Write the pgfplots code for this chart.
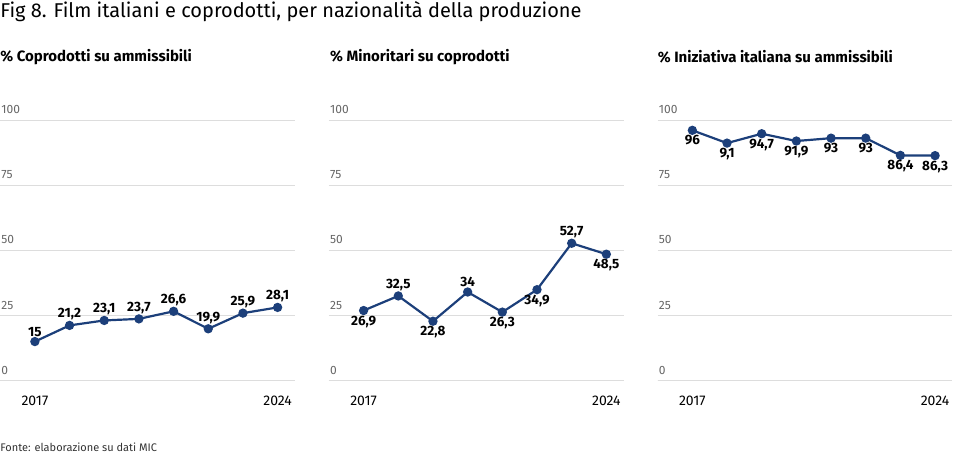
\documentclass[border=0pt]{standalone}
\usepackage{pgfplots}
\pgfplotsset{compat=1.18}
\usepackage{fontspec}
\setmainfont{Fira Sans}
\definecolor{lc}{HTML}{1C3F7A}
\definecolor{gc}{HTML}{DDDDDD}
\pgfplotsset{
 p/.style={scale only axis,width=295pt,height=261pt,xmin=2016,xmax=2024.5,ymin=0,ymax=100,
  axis x line*=bottom, axis y line=none, x axis line style={draw=gray!70},
  xtick={2017,2024}, xticklabels={2017,2024}, major tick length=0pt,
  xticklabel style={font=\fontsize{14}{14}\selectfont, yshift=-12pt},
  /pgf/number format/assume math mode=true, clip=false},
 ln/.style={lc, line width=2.2pt, mark=*, mark size=3.5pt, mark options={fill=lc,draw=lc}},
 lab/.style={only marks, mark=none, point meta=explicit symbolic, nodes near coords,
  nodes near coords style={font=\bfseries\fontsize{13.5}{13.5}\selectfont, black, anchor=#1, inner sep=5pt}},
}
\newcommand\gl[2]{\draw[gc] (rel axis cs:0,#1) -- (rel axis cs:1,#1);
  \node[anchor=south west,inner sep=1pt,text=gray!80!black,font=\fontsize{12}{12}\selectfont] at (rel axis cs:0,#1) [yshift=5pt] {#2};}
\newcommand\grid{\gl{0.25}{25}\gl{0.5}{50}\gl{0.75}{75}\gl{1}{100}\gl{0}{0}}
\begin{document}
\begin{tikzpicture}[x=1pt,y=1pt]
\path (0,0) rectangle (953,466);
\node[anchor=west,font=\fontsize{20}{20}\selectfont,inner sep=0] at (0,454) {Fig 8. Film italiani e coprodotti, per nazionalità della produzione};
\node[anchor=south west,font=\fontsize{11}{11}\selectfont,inner sep=0,text=black!80] at (0,14) {Fonte: elaborazione su dati MIC};
\node[anchor=west,font=\bfseries\fontsize{15}{15}\selectfont,inner sep=0] at (0,409) {\% Coprodotti su ammissibili};
\node[anchor=west,font=\bfseries\fontsize{15}{15}\selectfont,inner sep=0] at (330,409) {\% Minoritari su coprodotti};
\node[anchor=west,font=\bfseries\fontsize{15}{15}\selectfont,inner sep=0] at (658,409) {\% Iniziativa italiana su ammissibili};
\begin{axis}[p,at={(0pt,85pt)}]
\grid
\addplot[ln] coordinates {(2017,15)(2018,21.2)(2019,23.1)(2020,23.7)(2021,26.6)(2022,19.9)(2023,25.9)(2024,28.1)};
\addplot[lab=south] coordinates {(2017,15)[15](2018,21.2)[21,2](2019,23.1)[23,1](2020,23.7)[23,7](2021,26.6)[26,6](2022,19.9)[19,9](2023,25.9)[25,9](2024,28.1)[28,1]};
\end{axis}
\begin{axis}[p,at={(329pt,85pt)}]
\grid
\addplot[ln] coordinates {(2017,26.9)(2018,32.5)(2019,22.8)(2020,34)(2021,26.3)(2022,34.9)(2023,52.7)(2024,48.5)};
\addplot[lab=south] coordinates {(2018,32.5)[32,5](2020,34)[34](2023,52.7)[52,7]};
\addplot[lab=north] coordinates {(2017,26.9)[26,9](2019,22.8)[22,8](2021,26.3)[26,3](2022,34.9)[34,9](2024,48.5)[48,5]};
\end{axis}
\begin{axis}[p,at={(658pt,85pt)}]
\grid
\addplot[ln] coordinates {(2017,96)(2018,91.1)(2019,94.7)(2020,91.9)(2021,93)(2022,93)(2023,86.4)(2024,86.3)};
\addplot[lab=north] coordinates {(2017,96)[96](2018,91.1)[9,1](2019,94.7)[94,7](2020,91.9)[91,9](2021,93)[93](2022,93)[93](2023,86.4)[86,4](2024,86.3)[86,3]};
\end{axis}
\end{tikzpicture}
\end{document}
